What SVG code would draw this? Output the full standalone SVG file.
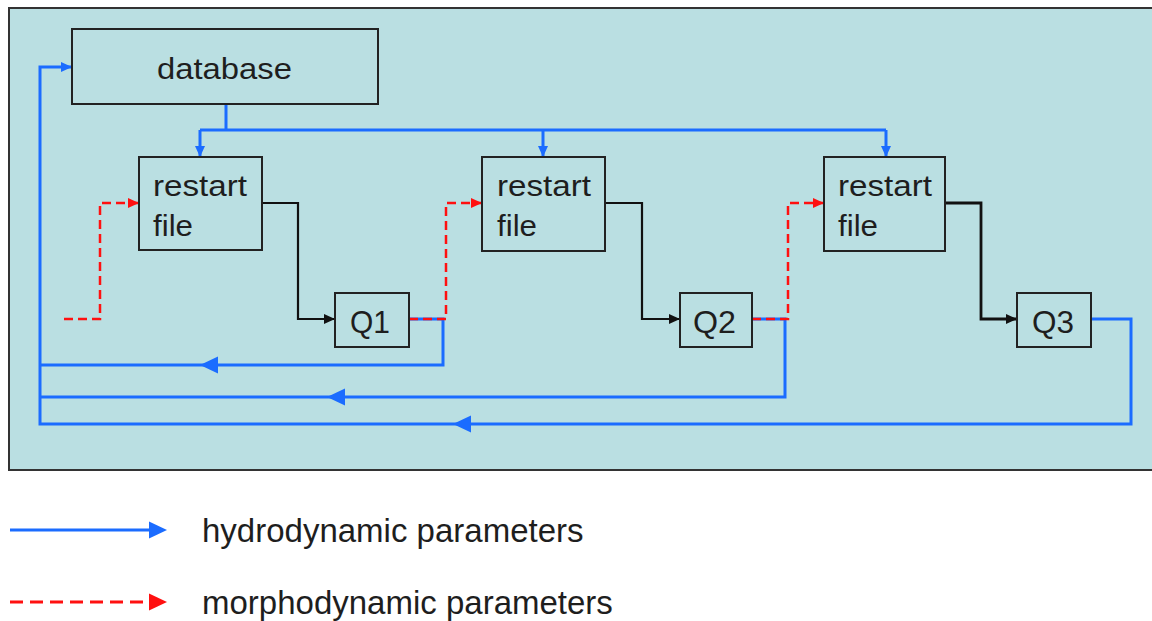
<svg xmlns="http://www.w3.org/2000/svg" xmlns:xlink="http://www.w3.org/1999/xlink" width="1152" height="621" viewBox="0 0 1152 621">
<style>
.panel{fill:#badfe2;stroke:#333;stroke-width:2}
.box{fill:none;stroke:#222;stroke-width:2}
.t{font-family:"Liberation Sans",Arial,sans-serif;fill:#1e1e1e;font-size:29px}
.lg{font-family:"Liberation Sans",Arial,sans-serif;fill:#1e1e1e;font-size:33px}
.blue{fill:none;stroke:#1b6cff;stroke-width:3;stroke-linejoin:miter}
.red{fill:none;stroke:#ff1010;stroke-width:2.5;stroke-dasharray:9 5}
.black{fill:none;stroke:#111;stroke-width:2.2}
</style>
<defs>
<marker id="mb" markerUnits="userSpaceOnUse" markerWidth="12" markerHeight="10" refX="11" refY="5" orient="auto"><path d="M0,0 L11,5 L0,10Z" fill="#1b6cff"/></marker>
<marker id="mr" markerUnits="userSpaceOnUse" markerWidth="12" markerHeight="10" refX="11" refY="5" orient="auto"><path d="M0,0 L11,5 L0,10Z" fill="#ff1010"/></marker>
<marker id="mk" markerUnits="userSpaceOnUse" markerWidth="12" markerHeight="10" refX="11" refY="5" orient="auto"><path d="M0,0 L11,5 L0,10Z" fill="#111"/></marker>
<path id="bigL" d="M0,0 L18,-8.5 L18,8.5Z" fill="#1b6cff"/>
</defs>
<rect class="panel" x="9" y="8" width="1160" height="462"/>

<g id="connectors">
  <path class="blue" d="M226,104 V130 M200,130 H886"/>
  <path class="blue" d="M200,130 V157" marker-end="url(#mb)"/>
  <path class="blue" d="M543,130 V157" marker-end="url(#mb)"/>
  <path class="blue" d="M886,130 V157" marker-end="url(#mb)"/>
  <path class="blue" d="M409,319 H443 V365 H40"/>
  <path class="blue" d="M752,319 H785 V397 H40"/>
  <path class="blue" d="M1091,319 H1131 V424 H40 V67 H72" marker-end="url(#mb)"/>
  <use xlink:href="#bigL" x="200" y="365"/>
  <use xlink:href="#bigL" x="327" y="397"/>
  <use xlink:href="#bigL" x="453" y="424"/>
  <path class="red" d="M64,319 H100 V203 H139" marker-end="url(#mr)"/>
  <path class="red" d="M409,319 H446 V203 H482" marker-end="url(#mr)"/>
  <path class="red" d="M752,319 H788 V203 H824" marker-end="url(#mr)"/>
  <path class="black" d="M262,203 H298 V319 H335" marker-end="url(#mk)"/>
  <path class="black" d="M605,203 H642 V319 H680" marker-end="url(#mk)"/>
  <path class="black" d="M945,203 H981 V319 H1017" marker-end="url(#mk)" style="stroke-width:2.8"/>
</g>

<g id="database"><rect class="box" x="72" y="29" width="306" height="75"/><text class="t" x="157" y="79" textLength="135" lengthAdjust="spacingAndGlyphs">database</text></g>
<g id="restart1"><rect class="box" x="139" y="157" width="123" height="93"/><text class="t" x="153" y="196" textLength="94" lengthAdjust="spacingAndGlyphs">restart</text><text class="t" x="153" y="236" textLength="40" lengthAdjust="spacingAndGlyphs">file</text></g>
<g id="restart2"><rect class="box" x="482" y="157" width="123" height="94"/><text class="t" x="497" y="196" textLength="94" lengthAdjust="spacingAndGlyphs">restart</text><text class="t" x="497" y="236" textLength="40" lengthAdjust="spacingAndGlyphs">file</text></g>
<g id="restart3"><rect class="box" x="824" y="157" width="121" height="94"/><text class="t" x="838" y="196" textLength="94" lengthAdjust="spacingAndGlyphs">restart</text><text class="t" x="838" y="236" textLength="40" lengthAdjust="spacingAndGlyphs">file</text></g>
<g id="q1"><rect class="box" x="335" y="293" width="74" height="54"/><text class="t" x="350" y="333" style="font-size:31px" textLength="40" lengthAdjust="spacingAndGlyphs">Q1</text></g>
<g id="q2"><rect class="box" x="680" y="293" width="72" height="54"/><text class="t" x="693" y="333" style="font-size:31px" textLength="43" lengthAdjust="spacingAndGlyphs">Q2</text></g>
<g id="q3"><rect class="box" x="1017" y="293" width="74" height="54"/><text class="t" x="1032" y="333" style="font-size:31px" textLength="42" lengthAdjust="spacingAndGlyphs">Q3</text></g>

<g id="legend">
  <path d="M10,530 H150" stroke="#1b6cff" stroke-width="3" fill="none"/>
  <path d="M149,521.5 L167,530 L149,538.5Z" fill="#1b6cff"/>
  <path d="M10,602 H150" stroke="#ff1010" stroke-width="3" fill="none" stroke-dasharray="13 7"/>
  <path d="M149,593.5 L167,602 L149,610.5Z" fill="#ff1010"/>
  <text class="lg" x="202" y="542">hydrodynamic parameters</text>
  <text class="lg" x="202" y="614">morphodynamic parameters</text>
</g>
</svg>
